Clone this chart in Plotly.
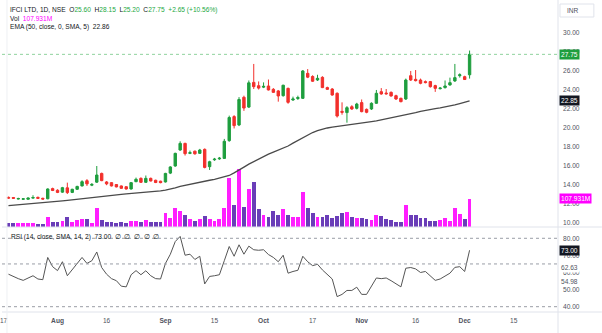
import pandas as pd
import plotly.graph_objects as go

# ---- session calendar (NSE, 2023) ----
holidays = ["2023-08-15", "2023-09-19", "2023-10-02", "2023-10-24",
            "2023-11-14", "2023-11-27", "2023-12-25"]
special_sessions = ["2023-11-12"]          # Diwali Muhurat trading
first_day, last_day = "2023-07-18", "2023-12-04"

# ---- daily OHLC (INR) ----
open_ = [12.70, 12.68, 12.52, 12.50, 12.50, 12.62, 12.70, 12.60, 12.55, 13.62,
         13.45, 13.25, 13.70, 13.22, 13.55, 13.90, 14.45, 13.98, 14.30, 15.22,
         14.32, 14.25, 14.05, 13.90, 13.82, 13.58, 14.35, 14.70, 14.28, 14.70,
         14.50, 14.40, 14.32, 15.25, 16.00, 17.68, 18.38, 17.33, 17.56, 17.33,
         17.75, 15.93, 16.65, 16.75, 16.80, 18.67, 21.20, 20.32, 23.23, 22.20,
         24.80, 24.45, 24.30, 24.42, 24.07, 23.90, 23.40, 24.17, 22.95, 23.10,
         23.12, 25.75, 25.42, 25.05, 25.33, 24.25, 24.10, 23.65, 21.75, 21.62,
         22.24, 22.07, 22.67, 21.96, 22.00, 22.60, 23.82, 23.68, 23.75, 23.40,
         23.12, 23.05, 25.50, 25.12, 25.05, 24.88, 24.88, 24.46, 24.14, 24.25,
         24.53, 24.95, 25.50, 25.40, 25.60]
high = [12.78, 12.74, 12.66, 12.60, 12.68, 12.92, 12.78, 12.66, 13.65, 13.72,
        13.55, 13.80, 14.25, 13.60, 13.92, 14.50, 14.62, 14.20, 16.00, 15.30,
        14.42, 14.30, 14.10, 13.95, 13.86, 14.30, 14.78, 14.80, 15.00, 14.78,
        14.56, 14.45, 15.28, 15.98, 17.40, 18.60, 18.45, 17.62, 17.62, 17.80,
        17.85, 16.55, 16.85, 16.95, 18.85, 21.30, 21.35, 23.25, 23.40, 25.00,
        26.74, 24.90, 24.80, 25.10, 24.20, 24.00, 24.55, 24.25, 23.30, 23.40,
        26.10, 26.20, 25.55, 25.60, 25.45, 24.35, 24.20, 23.75, 22.70, 22.30,
        22.40, 22.65, 23.00, 22.05, 22.70, 24.00, 24.20, 24.10, 23.85, 23.50,
        23.20, 25.20, 26.00, 26.10, 25.20, 25.00, 24.95, 24.55, 24.30, 25.00,
        25.30, 26.74, 25.75, 25.50, 28.15]
low = [12.56, 12.55, 12.47, 12.44, 12.45, 12.56, 12.54, 12.48, 12.50, 13.36,
       13.15, 13.18, 13.05, 13.15, 13.48, 13.85, 13.90, 13.88, 14.22, 14.40,
       13.98, 13.85, 13.75, 13.60, 13.52, 13.52, 14.30, 14.22, 14.25, 14.38,
       14.20, 14.18, 14.26, 15.15, 15.92, 17.60, 17.10, 17.25, 17.20, 17.28,
       15.75, 15.58, 16.55, 16.65, 16.75, 18.55, 19.95, 20.20, 21.80, 22.10,
       24.10, 24.05, 24.20, 23.95, 23.70, 22.77, 23.30, 22.55, 22.85, 22.95,
       23.05, 25.25, 24.85, 24.95, 24.20, 24.00, 23.40, 21.10, 21.40, 20.56,
       21.90, 21.95, 21.65, 21.55, 21.90, 22.55, 23.50, 23.50, 23.30, 22.95,
       22.70, 22.95, 24.95, 24.90, 24.60, 24.70, 24.25, 23.80, 24.05, 24.15,
       24.45, 24.85, 25.30, 25.05, 25.20]
close = [12.62, 12.60, 12.58, 12.55, 12.63, 12.68, 12.60, 12.52, 13.58, 13.42,
         13.22, 13.72, 13.20, 13.55, 13.85, 14.35, 14.12, 14.06, 15.05, 14.46,
         14.12, 13.90, 13.80, 13.65, 13.58, 14.25, 14.60, 14.28, 14.70, 14.42,
         14.26, 14.25, 15.22, 15.90, 17.33, 18.38, 17.30, 17.40, 17.28, 17.68,
         15.85, 16.45, 16.72, 16.82, 18.60, 21.10, 20.25, 23.00, 22.10, 24.75,
         24.35, 24.20, 24.38, 24.00, 23.75, 23.37, 24.50, 22.70, 23.05, 23.20,
         26.00, 25.35, 24.92, 25.23, 24.25, 24.07, 23.47, 21.26, 21.65, 22.14,
         22.00, 22.52, 21.72, 21.65, 22.60, 23.65, 23.58, 23.60, 23.37, 23.05,
         22.77, 25.05, 25.05, 24.98, 24.70, 24.78, 24.35, 24.17, 24.20, 24.42,
         24.77, 25.30, 25.60, 25.10, 27.75]

# ---- volume (millions of shares) ----
volume_m = [14, 14, 14, 14, 14, 15, 11, 11, 37, 18,
            18, 24, 40, 18, 27, 32, 30, 17, 72, 28,
            18, 18, 15, 20, 14, 22, 24, 18, 28, 18,
            18, 18, 53, 36, 74, 63, 46, 31, 23, 30,
            42, 30, 23, 30, 72, 187, 85, 222, 78, 146,
            175, 69, 46, 37, 63, 46, 69, 46, 37, 37,
            136, 72, 52, 40, 37, 46, 33, 44, 53, 56,
            40, 33, 33, 31, 27, 46, 42, 30, 27, 20,
            20, 85, 46, 46, 33, 33, 24, 24, 27, 33,
            24, 72, 50, 30, 107.931]

# ---- EMA(50, close) smoothed with SMA(5) ----
ema = [11.82, 11.86, 11.91, 11.95, 12.00, 12.05, 12.09, 12.14, 12.18, 12.23,
       12.28, 12.33, 12.38, 12.44, 12.49, 12.55, 12.62, 12.69, 12.76, 12.83,
       12.90, 12.94, 12.98, 13.02, 13.06, 13.10, 13.14, 13.18, 13.22, 13.26,
       13.30, 13.38, 13.46, 13.55, 13.70, 13.85, 13.97, 14.08, 14.19, 14.30,
       14.40, 14.50, 14.60, 14.72, 14.85, 15.00, 15.27, 15.55, 15.88, 16.20,
       16.48, 16.75, 17.00, 17.25, 17.47, 17.68, 17.89, 18.10, 18.40, 18.70,
       19.00, 19.30, 19.52, 19.72, 19.87, 20.00, 20.08, 20.15, 20.21, 20.27,
       20.32, 20.40, 20.49, 20.58, 20.67, 20.75, 20.85, 20.95, 21.05, 21.15,
       21.25, 21.37, 21.50, 21.62, 21.75, 21.87, 21.95, 22.04, 22.12, 22.21,
       22.30, 22.43, 22.57, 22.71, 22.86]

# ---- RSI(14) ----
rsi = [59.0, 57.5, 56.4, 55.4, 56.8, 58.1, 56.2, 55.8, 68.8, 63.4,
       61.1, 66.3, 58.1, 61.5, 64.8, 68.8, 65.3, 66.9, 72.0, 62.9,
       59.0, 56.4, 55.2, 52.0, 51.6, 58.7, 61.1, 58.7, 61.0, 58.1,
       56.4, 56.2, 65.3, 70.7, 78.1, 81.1, 70.1, 70.7, 67.6, 69.5,
       53.3, 57.7, 58.1, 58.7, 66.9, 75.2, 69.5, 76.2, 70.7, 75.4,
       73.3, 73.0, 73.3, 70.5, 68.8, 66.3, 70.1, 59.6, 60.6, 61.3,
       69.5, 66.3, 64.0, 64.8, 61.5, 58.7, 56.2, 45.9, 47.2, 49.5,
       49.5, 51.4, 47.2, 47.2, 51.6, 56.8, 56.4, 56.8, 55.2, 53.5,
       51.6, 62.5, 62.9, 62.1, 60.0, 60.6, 57.7, 55.4, 56.2, 57.7,
       59.6, 63.0, 63.4, 60.6, 73.0]

# ---- time-axis labels ----
tick_dates = ["2023-07-17", "2023-08-01", "2023-08-16", "2023-09-01", "2023-09-15",
              "2023-10-03", "2023-10-17", "2023-11-01", "2023-11-16", "2023-12-01",
              "2023-12-15"]
tick_labels = ["17", "Aug", "16", "Sep", "15", "Oct", "17", "Nov", "16", "Dec", "15"]

price_ticks = [10, 12, 14, 16, 18, 20, 22, 24, 26, 28, 30]
rsi_ticks = [40, 50, 60, 70, 80]
rsi_bands = [80, 65, 40]

# ---- build a bar-index axis from the trading calendar ----
sessions = pd.bdate_range("2023-07-03", "2024-01-31", freq="C", holidays=holidays)
sessions = sessions.union(pd.DatetimeIndex(special_sessions))
slot = {d: k for k, d in enumerate(sessions)}
origin = slot[pd.Timestamp(first_day)]
dates = [d for d in sessions if pd.Timestamp(first_day) <= d <= pd.Timestamp(last_day)]
xs = [slot[d] - origin for d in dates]
tick_pos = [slot[pd.Timestamp(d)] - origin for d in tick_dates]
tick_text = [f"<b>{t}</b>" if t.isalpha() else t for t in tick_labels]

UP, DOWN = "#1e9e3e", "#f2302c"
VOL_UP, VOL_DOWN = "#ff1eff", "#6a3db8"
AX_TXT = "#50535e"
FONT = "Liberation Sans, Arial, sans-serif"
FS = 6.6

vol_colors = [VOL_UP if c >= o else VOL_DOWN for o, c in zip(open_, close)]

fig = go.Figure()
fig.add_trace(go.Bar(x=xs, y=volume_m, marker_color=vol_colors, marker_line_width=0,
                     width=0.78, yaxis="y", showlegend=False))
fig.add_trace(go.Candlestick(
    x=xs, open=open_, high=high, low=low, close=close, yaxis="y2",
    increasing=dict(line=dict(color=UP, width=1), fillcolor=UP),
    decreasing=dict(line=dict(color=DOWN, width=1), fillcolor=DOWN),
    showlegend=False))
fig.add_trace(go.Scatter(x=xs, y=ema, mode="lines", yaxis="y2",
                         line=dict(color="#4a4a4a", width=1.3), showlegend=False))
fig.add_trace(go.Scatter(x=xs, y=rsi, mode="lines", yaxis="y3",
                         line=dict(color="#555555", width=1), showlegend=False))

W, H = 602, 333
ML, MR, MT, MB = 0, 44, 0, 21
PW, PH = W - ML - MR, H - MT - MB
split = (PH - 227) / PH            # main pane 0..227 px, RSI pane below


def px_x(p):
    return p / PW


def px_y(p):
    return 1 - p / PH


shapes = []
# last-price line
shapes.append(dict(type="line", xref="paper", yref="y2", x0=0, x1=1, y0=close[-1], y1=close[-1],
                   line=dict(color="#8fd39e", width=1, dash="dot")))
# RSI bands
for b in rsi_bands:
    shapes.append(dict(type="line", xref="paper", yref="y3", x0=0, x1=1, y0=b, y1=b,
                       line=dict(color="#9a9da6", width=1, dash="3px,3px")))
# pane separators / borders
BORDER = "#e0e3eb"
shapes += [
    dict(type="line", xref="paper", yref="paper", x0=1, x1=1, y0=-MB / PH, y1=1,
         line=dict(color=BORDER, width=1)),
    dict(type="line", xref="paper", yref="paper", x0=0, x1=W / PW, y0=split, y1=split,
         line=dict(color=BORDER, width=1)),
    dict(type="line", xref="paper", yref="paper", x0=0, x1=W / PW, y0=0, y1=0,
         line=dict(color=BORDER, width=1)),
    dict(type="line", xref="paper", yref="paper", x0=px_x(5), x1=px_x(5), y0=-MB / PH, y1=1,
         line=dict(color="#eef0f3", width=1)),
    dict(type="rect", xref="paper", yref="paper", x0=px_x(560), x1=px_x(594),
         y0=px_y(17), y1=px_y(4), line=dict(color=BORDER, width=1), fillcolor="white"),
]

G = "#22a83f"
ann = []
ann.append(dict(
    xref="paper", yref="paper", x=px_x(6), y=px_y(10), xanchor="left", yanchor="middle",
    showarrow=False, font=dict(size=FS, color="#131722", family=FONT),
    text=(f"IFCI LTD, 1D, NSE&nbsp;&nbsp;O<span style='color:{G}'>{open_[-1]:.2f}</span>"
          f"&nbsp;&nbsp;H<span style='color:{G}'>{high[-1]:.2f}</span>"
          f"&nbsp;&nbsp;L<span style='color:{G}'>{low[-1]:.2f}</span>"
          f"&nbsp;&nbsp;C<span style='color:{G}'>{close[-1]:.2f}</span>"
          f"&nbsp;&nbsp;<span style='color:{G}'>+{close[-1]-close[-2]:.2f} "
          f"(+{(close[-1]-close[-2])/close[-2]*100:.2f}%)</span>")))
ann.append(dict(
    xref="paper", yref="paper", x=px_x(6), y=px_y(18.5), xanchor="left", yanchor="middle",
    showarrow=False, font=dict(size=FS, color="#131722", family=FONT),
    text=f"Vol&nbsp;&nbsp;<span style='color:#ff00ff'>{volume_m[-1]:.3f}M</span>"))
ann.append(dict(
    xref="paper", yref="paper", x=px_x(6), y=px_y(27), xanchor="left", yanchor="middle",
    showarrow=False, font=dict(size=FS, color="#131722", family=FONT),
    text=f"EMA (50, close, 0, SMA, 5)&nbsp;&nbsp;{ema[-1]:.2f}"))
ann.append(dict(
    xref="paper", yref="paper", x=px_x(7), y=px_y(236.5), xanchor="left", yanchor="middle",
    showarrow=False, font=dict(size=FS, color="#131722", family=FONT),
    text=f"RSI (14, close, SMA, 14, 2)&nbsp;&nbsp;{rsi[-1]:.2f}&nbsp;&nbsp;" + "&nbsp;&nbsp;".join(["∅"] * 5)))
ann.append(dict(xref="paper", yref="paper", x=px_x(565), y=px_y(10.5), xanchor="left",
                yanchor="middle", showarrow=False, text="INR",
                font=dict(size=FS, color=AX_TXT, family=FONT)))


def axis_tag(text, yref, yval, bg, fg="white"):
    return dict(xref="paper", yref=yref, x=1, y=yval, xanchor="left", yanchor="middle",
                xshift=1, showarrow=False, text=text, bgcolor=bg, borderpad=1,
                font=dict(size=FS, color=fg, family=FONT))


ann.append(axis_tag(f"{close[-1]:.2f}", "y2", close[-1], "#1e9e3e"))
ann.append(axis_tag("22.85", "y2", ema[-1], "#131722"))
ann.append(axis_tag(f"{volume_m[-1]:.3f}M", "y", volume_m[-1], "#ff00ff"))
ann.append(axis_tag(f"{rsi[-1]:.2f}", "y3", rsi[-1], "#131722"))
ann.append(axis_tag("62.63", "y3", 62.63, "white", AX_TXT))
ann.append(axis_tag("54.98", "y3", 54.98, "white", AX_TXT))

spacing = 4.923                     # px per session
x0 = -6.5 / spacing
x1 = x0 + PW / spacing

fig.update_layout(
    width=W, height=H, margin=dict(l=ML, r=MR, t=MT, b=MB),
    paper_bgcolor="white", plot_bgcolor="white",
    font=dict(family=FONT, size=FS, color=AX_TXT),
    showlegend=False, bargap=0,
    xaxis=dict(domain=[0, 1], range=[x0, x1], anchor="y3", tickmode="array",
               tickvals=tick_pos, ticktext=tick_text, showgrid=False, zeroline=False,
               showline=False, ticks="", rangeslider=dict(visible=False),
               ticklabeloverflow="allow", ticklabelstandoff=3,
               tickfont=dict(size=FS, color=AX_TXT, family=FONT)),
    yaxis=dict(domain=[split, 1], range=[0, 874], visible=False, fixedrange=True),
    yaxis2=dict(overlaying="y", side="right", anchor="x", range=[9.58, 33.47],
                tickmode="array", tickvals=price_ticks,
                ticktext=[f"{v:.2f}" for v in price_ticks], showgrid=False,
                zeroline=False, ticks="", ticklabelstandoff=4,
                tickfont=dict(size=FS, color=AX_TXT, family=FONT)),
    yaxis3=dict(domain=[0, split], side="right", anchor="x", range=[36.9, 86.6],
                tickmode="array", tickvals=rsi_ticks,
                ticktext=[f"{v:.2f}" for v in rsi_ticks], showgrid=False,
                zeroline=False, ticks="", ticklabelstandoff=4,
                tickfont=dict(size=FS, color=AX_TXT, family=FONT)),
    shapes=shapes, annotations=ann,
)

fig.write_html("out.html")
